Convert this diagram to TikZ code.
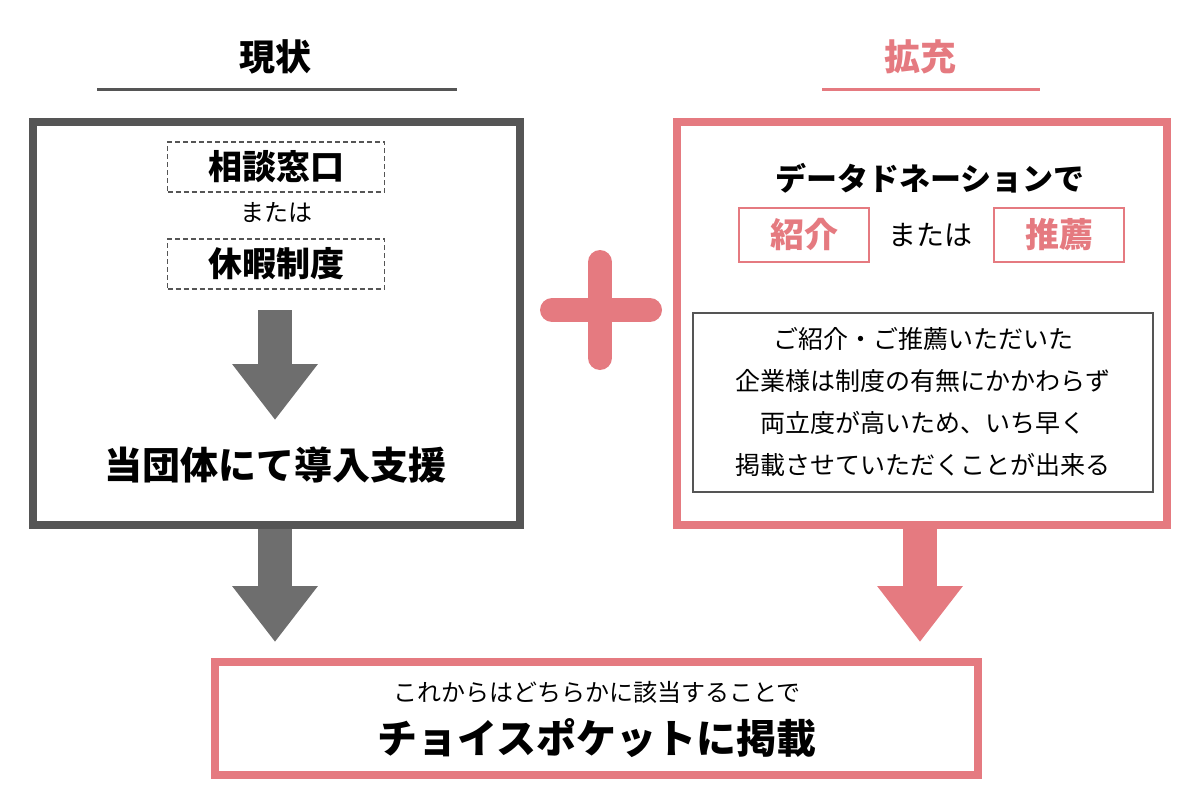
\documentclass[tikz,border=0pt]{standalone}
\usepackage{fontspec}
\setmainfont{Noto Sans CJK JP}
\usetikzlibrary{arrows.meta}
\definecolor{rosepink}{HTML}{E57A80}
\definecolor{darkgray}{HTML}{555555}
\definecolor{arrowgray}{HTML}{6E6E6E}
\tikzset{
  title/.style={font=\fontsize{36}{40}\selectfont\bfseries},
  dashbox/.style={draw=darkgray,dash pattern=on 5pt off 3pt,line width=1.5pt,minimum width=217pt,minimum height=50pt,font=\fontsize{34}{38}\selectfont\bfseries},
  pinkbox/.style={draw=rosepink,line width=2pt,minimum width=130pt,minimum height=54pt,text=rosepink,font=\fontsize{34}{38}\selectfont\bfseries},
  bigarrow/.style={line width=34pt,-{Triangle[length=56pt,width=82pt]}},
  plain/.style={font=\fontsize{24}{28}\selectfont}
}
\begin{document}
\begin{tikzpicture}[x=1pt,y=-1pt]
        \useasboundingbox (0,0) rectangle (1200,800);
        % current state
        \node[title] (now) at (275,57) {現状};
        \draw[darkgray,line width=3pt] (97,90) -- (457,90);
        \draw[darkgray,line width=8pt] (33,122) rectangle (520,525);
        \node[dashbox] (desk) at (276,167) {相談窓口};
        \node[plain] (or1) at (276,213) {または};
        \node[dashbox] (leave) at (276,264) {休暇制度};
        \coordinate (stemtop) at (275,310);
        \coordinate (stemtip) at (275,420);
        \draw[bigarrow,arrowgray] (stemtop) -- (stemtip);
        \node[font=\fontsize{38}{42}\selectfont\bfseries] (support) at (275,465) {当団体にて導入支援};

        % plus
        \draw[rosepink,line width=24pt,line cap=round] (552,310) -- (650,310);
        \draw[rosepink,line width=24pt,line cap=round] (600,262) -- (600,358);

        % expansion
        \node[title,text=rosepink] (ext) at (920,57) {拡充};
        \draw[rosepink,line width=3pt] (822,90) -- (1040,90);
        \draw[rosepink,line width=8pt] (677,122) rectangle (1167,525);
        \node[font=\fontsize{31}{35}\selectfont\bfseries] (donation) at (930,178) {データドネーションで};
        \node[pinkbox] (intro) at (804,235) {紹介};
        \node[plain,font=\fontsize{28}{32}\selectfont] (or2) at (930,235) {または};
        \node[pinkbox] (recom) at (1059,235) {推薦};
        \node[draw=darkgray,line width=2pt,minimum width=460pt,minimum height=179pt,
              align=center,plain,font=\fontsize{25}{42}\selectfont] (note) at (923,402)
          {ご紹介・ご推薦いただいた\\企業様は制度の有無にかかわらず\\両立度が高いため、いち早く\\掲載させていただくことが出来る};

        % result
        \draw[rosepink,line width=8pt] (215,662) rectangle (978,775);
        \node[plain] (either) at (597,692) {これからはどちらかに該当することで};
        \node[font=\fontsize{40}{44}\selectfont\bfseries] (listed) at (597,738) {チョイスポケットに掲載};

        \coordinate (lefttop) at (275,529);
        \coordinate (lefttip) at (275,642);
        \coordinate (righttop) at (920,529);
        \coordinate (righttip) at (920,642);
        \draw[bigarrow,arrowgray] (lefttop) -- (lefttip);
        \draw[bigarrow,rosepink] (righttop) -- (righttip);
\end{tikzpicture}
\end{document}
